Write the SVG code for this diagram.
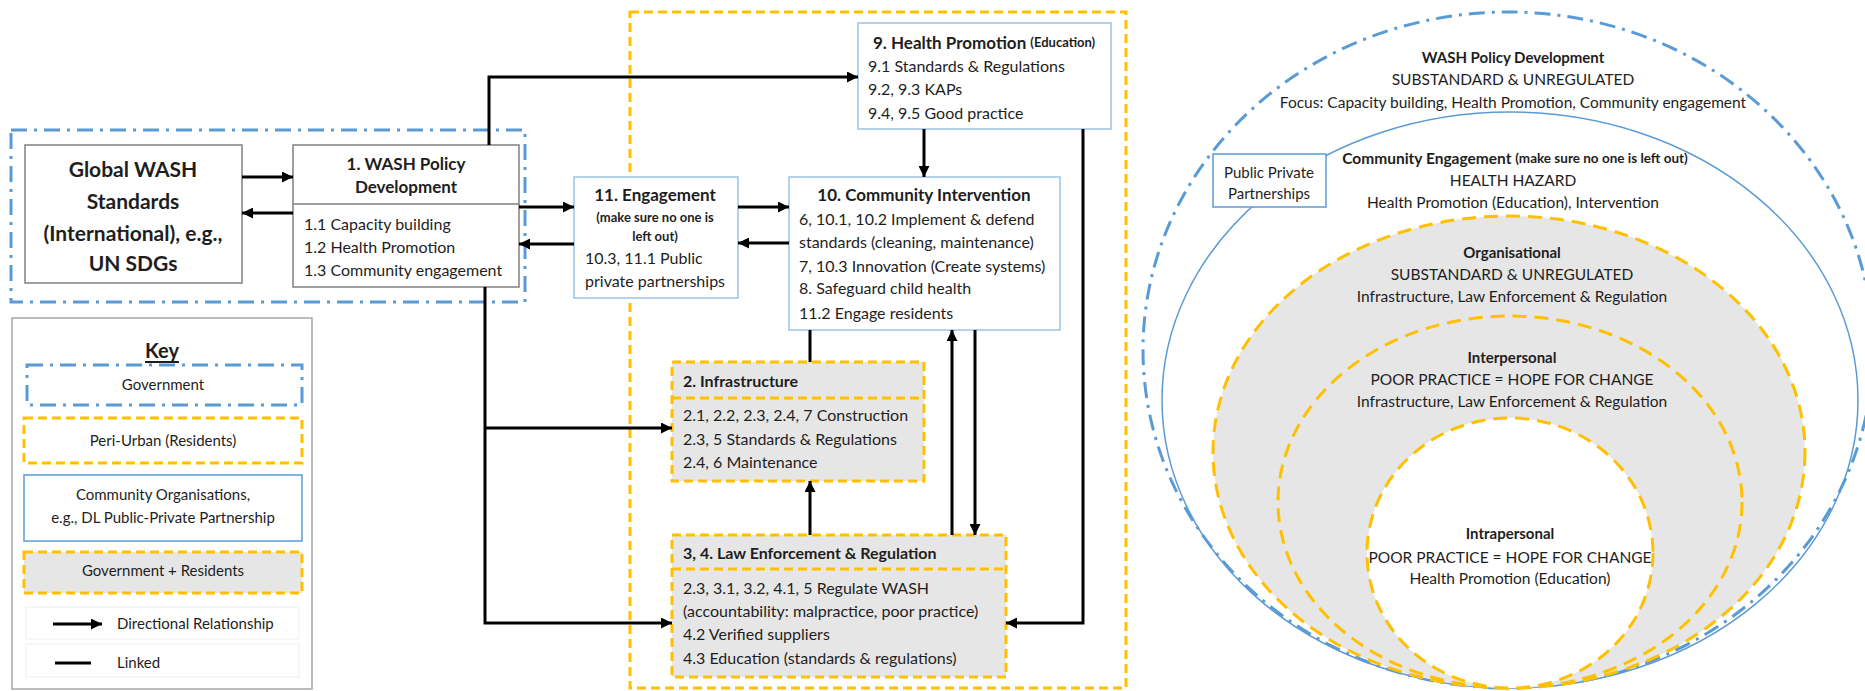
<svg xmlns="http://www.w3.org/2000/svg" width="1865" height="691" viewBox="0 0 1865 691">
<defs>
<marker id="ah" markerUnits="userSpaceOnUse" markerWidth="11" markerHeight="11" refX="11" refY="5.5" orient="auto">
<path d="M0,0 L11,5.5 L0,11 z" fill="#000"/>
</marker>
<style>
text { font-family: Lato, "Liberation Sans", sans-serif; fill:#1e1e1e; dominant-baseline: central; }
.b { font-weight: bold; }
.c { text-anchor: middle; }
.s16 { font-size: 16px; }
.s15 { font-size: 15px; }
.s14 { font-size: 15.5px; }
.s13 { font-size: 13px; }
.s135 { font-size: 13.5px; }
.s17 { font-size: 17px; }
.s21 { font-size: 21px; }
.conn { stroke:#000; stroke-width:3; fill:none; }
.arr { marker-end:url(#ah); }
.gov { fill:none; stroke:#5b9bd5; stroke-width:3; stroke-dasharray:16 7 3 7; }
.peri { fill:none; stroke:#ffc000; stroke-width:3; stroke-dasharray:9 5; }
.comm { fill:#fff; stroke:#9dc3e6; stroke-width:1.5; }
.gr { fill:#e6e6e6; stroke:#ffc000; stroke-width:3; stroke-dasharray:9 5; }
.plain { fill:#fff; stroke:#808080; stroke-width:1.5; }
.faint { fill:#fff; stroke:#eeeeee; stroke-width:1; }
.ring { stroke:#ffc000; stroke-width:3; stroke-dasharray:14 8; }
</style>
</defs>
<rect width="1865" height="691" fill="#fff"/>

<!-- Containers -->
<g id="government-zone">
<rect x="11" y="130" width="514" height="172" class="gov"/>
</g>
<g id="peri-urban-zone">
<rect x="630" y="12" width="496" height="676" class="peri"/>
</g>

<!-- Nodes -->
<g id="global-wash">
<rect x="25" y="145" width="217" height="138" class="plain"/>
<text class="b c s21" x="133" y="168">Global WASH</text>
<text class="b c s21" x="133" y="200">Standards</text>
<text class="b c s21" x="133" y="232">(International), e.g.,</text>
<text class="b c s21" x="133" y="262">UN SDGs</text>
</g>

<g id="wash-policy">
<rect x="293" y="145" width="226" height="142" class="plain"/>
<line x1="293" y1="204" x2="519" y2="204" stroke="#808080" stroke-width="1.5"/>
<text class="b c s17" x="406" y="163">1. WASH Policy</text>
<text class="b c s17" x="406" y="186">Development</text>
<text class="s16" x="304" y="223">1.1 Capacity building</text>
<text class="s16" x="304" y="246">1.2 Health Promotion</text>
<text class="s16" x="304" y="269">1.3 Community engagement</text>
</g>

<g id="health-promotion">
<rect x="858" y="23" width="253" height="106" class="comm"/>
<text class="b s17" x="873" y="42">9. Health Promotion <tspan class="s13">(Education)</tspan></text>
<text class="s16" x="868" y="65">9.1 Standards &amp; Regulations</text>
<text class="s16" x="868" y="88">9.2, 9.3 KAPs</text>
<text class="s16" x="868" y="112">9.4, 9.5 Good practice</text>
</g>

<g id="engagement">
<rect x="574" y="177" width="164" height="121" class="comm"/>
<text class="b c s17" x="655" y="194">11. Engagement</text>
<text class="b c s13" x="655" y="217">(make sure no one is</text>
<text class="b c s13" x="655" y="236">left out)</text>
<text class="s16" x="585" y="257">10.3, 11.1 Public</text>
<text class="s16" x="585" y="280">private partnerships</text>
</g>

<g id="community-intervention">
<rect x="789" y="177" width="271" height="153" class="comm"/>
<text class="b c s17" x="924" y="194">10. Community Intervention</text>
<text class="s16" x="799" y="218">6, 10.1, 10.2 Implement &amp; defend</text>
<text class="s16" x="799" y="241">standards (cleaning, maintenance)</text>
<text class="s16" x="799" y="265">7, 10.3 Innovation (Create systems)</text>
<text class="s16" x="799" y="287">8. Safeguard child health</text>
<text class="s16" x="799" y="312">11.2 Engage residents</text>
</g>

<g id="infrastructure">
<rect x="672" y="362" width="252" height="119" class="gr"/>
<line x1="672" y1="398" x2="924" y2="398" stroke="#ffc000" stroke-width="3" stroke-dasharray="9 5"/>
<text class="b s16" x="683" y="380">2. Infrastructure</text>
<text class="s16" x="683" y="414">2.1, 2.2, 2.3, 2.4, 7 Construction</text>
<text class="s16" x="683" y="438">2.3, 5 Standards &amp; Regulations</text>
<text class="s16" x="683" y="461">2.4, 6 Maintenance</text>
</g>

<g id="law-enforcement">
<rect x="672" y="535" width="334" height="142" class="gr"/>
<line x1="672" y1="569" x2="1006" y2="569" stroke="#ffc000" stroke-width="3" stroke-dasharray="9 5"/>
<text class="b s16" x="683" y="552">3, 4. Law Enforcement &amp; Regulation</text>
<text class="s16" x="683" y="587">2.3, 3.1, 3.2, 4.1, 5 Regulate WASH</text>
<text class="s16" x="683" y="610">(accountability: malpractice, poor practice)</text>
<text class="s16" x="683" y="633">4.2 Verified suppliers</text>
<text class="s16" x="683" y="657">4.3 Education (standards &amp; regulations)</text>
</g>

<!-- Connectors -->
<g id="connectors">
<line x1="242" y1="177" x2="293" y2="177" class="conn arr"/>
<line x1="293" y1="213" x2="242" y2="213" class="conn arr"/>
<polyline points="489,145 489,77 858,77" class="conn arr"/>
<line x1="519" y1="207" x2="574" y2="207" class="conn arr"/>
<line x1="574" y1="244" x2="519" y2="244" class="conn arr"/>
<line x1="738" y1="207" x2="789" y2="207" class="conn arr"/>
<line x1="789" y1="243" x2="738" y2="243" class="conn arr"/>
<line x1="924" y1="129" x2="924" y2="177" class="conn arr"/>
<line x1="810" y1="330" x2="810" y2="362" class="conn"/>
<line x1="810" y1="535" x2="810" y2="481" class="conn arr"/>
<line x1="952" y1="535" x2="952" y2="330" class="conn arr"/>
<line x1="975" y1="330" x2="975" y2="535" class="conn arr"/>
<polyline points="1083,129 1083,623 1006,623" class="conn arr"/>
<polyline points="485,287 485,623 672,623" class="conn arr"/>
<line x1="485" y1="428" x2="672" y2="428" class="conn arr"/>
</g>

<!-- Key -->
<g id="key">
<rect x="12" y="318" width="300" height="371" fill="#fff" stroke="#a6a6a6" stroke-width="1.5"/>
<text class="b c" x="162" y="350" font-size="20" text-decoration="underline">Key</text>
<rect x="27" y="365" width="275" height="40" class="gov" fill="#fff"/>
<text class="c s15" x="163" y="384">Government</text>
<rect x="24" y="418" width="278" height="45" class="peri"/>
<text class="c s15" x="163" y="440">Peri-Urban (Residents)</text>
<rect x="24" y="475" width="278" height="66" fill="#fff" stroke="#5b9bd5" stroke-width="1.5"/>
<text class="c s15" x="163" y="494">Community Organisations,</text>
<text class="c s15" x="163" y="517">e.g., DL Public-Private Partnership</text>
<rect x="24" y="552" width="278" height="41" class="gr"/>
<text class="c s15" x="163" y="570">Government + Residents</text>
<rect x="26" y="607" width="273" height="32" class="faint"/>
<line x1="53" y1="624" x2="102" y2="624" class="conn arr"/>
<text class="s15" x="117" y="623">Directional  Relationship</text>
<rect x="26" y="644" width="273" height="33" class="faint"/>
<line x1="55" y1="663" x2="91" y2="663" class="conn"/>
<text class="s15" x="117" y="662">Linked</text>
</g>

<!-- Right: nested levels -->
<g id="level-wash-policy">
<ellipse cx="1508" cy="350" rx="365" ry="338" class="gov"/>
<text class="b c s15" x="1513" y="57">WASH Policy Development</text>
<text class="c s14" x="1513" y="79">SUBSTANDARD &amp; UNREGULATED</text>
<text class="c s14" x="1513" y="102">Focus: Capacity building, Health Promotion, Community engagement</text>
</g>
<g id="level-community">
<ellipse cx="1510" cy="400" rx="348" ry="288" fill="none" stroke="#5b9bd5" stroke-width="1.5"/>
<text class="b c s14" x="1515" y="158">Community Engagement <tspan class="s135">(make sure no one is left out)</tspan></text>
<text class="c s14" x="1513" y="180">HEALTH HAZARD</text>
<text class="c s14" x="1513" y="202">Health Promotion (Education), Intervention</text>
</g>
<g id="level-organisational">
<ellipse cx="1509" cy="452" rx="296" ry="236" fill="#e6e6e6" class="ring"/>
<text class="b c s15" x="1512" y="252">Organisational</text>
<text class="c s14" x="1512" y="274">SUBSTANDARD &amp; UNREGULATED</text>
<text class="c s14" x="1512" y="296">Infrastructure, Law Enforcement &amp; Regulation</text>
</g>
<g id="level-interpersonal">
<ellipse cx="1510" cy="502" rx="232" ry="186" fill="#e6e6e6" class="ring"/>
<text class="b c s15" x="1512" y="357">Interpersonal</text>
<text class="c s14" x="1512" y="379">POOR PRACTICE = HOPE FOR CHANGE</text>
<text class="c s14" x="1512" y="401">Infrastructure, Law Enforcement &amp; Regulation</text>
</g>
<g id="level-intrapersonal">
<ellipse cx="1510" cy="553" rx="143" ry="135" fill="#fff" class="ring"/>
<text class="b c s15" x="1510" y="533">Intrapersonal</text>
<text class="c s14" x="1510" y="557">POOR PRACTICE = HOPE FOR CHANGE</text>
<text class="c s14" x="1510" y="578">Health Promotion (Education)</text>
</g>
<g id="public-private-partnerships">
<rect x="1213" y="154" width="113" height="53" fill="#fff" stroke="#5b9bd5" stroke-width="1.5"/>
<text class="c s15" x="1269" y="172">Public Private</text>
<text class="c s15" x="1269" y="193">Partnerships</text>
</g>
</svg>
